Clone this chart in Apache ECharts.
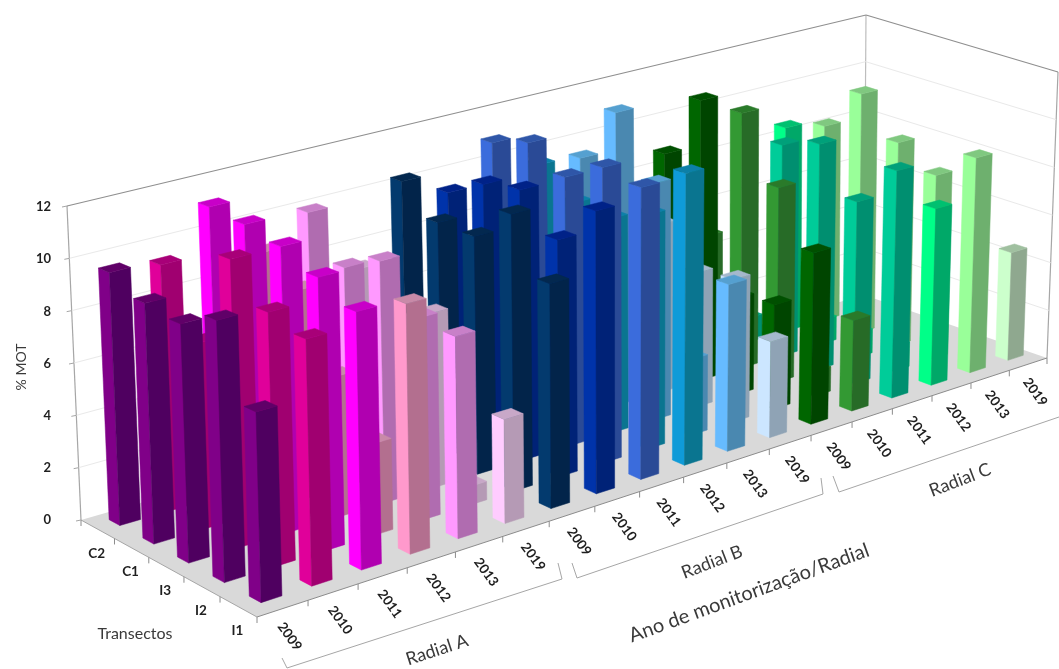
<!DOCTYPE html>
<html>
<head>
<meta charset="utf-8">
<script src="https://cdn.jsdelivr.net/npm/echarts@6/dist/echarts.min.js"></script>
<style>html,body{margin:0;padding:0;background:#fff}#c{width:1059px;height:669px}</style>
</head>
<body>
<div id="c"></div>
<script>
// % MOT per transect, monitoring year and radial
const years = ['2009','2010','2011','2012','2013','2019'];
const radials = ['Radial A','Radial B','Radial C'];
const transects = ['I1','I2','I3','C1','C2'];
const valuesI1 = [6.8,8.9,9.4,9.2,7.5,3.9, 8.5,10.8,11.25,11.35,6.55,3.8, 6.85,3.65,9.25,7.25,8.9,4.5];
const valuesI2 = [9.5,9.3,10.1,3.4,7.6,0.7, 10.6,9.15,11.5,9.2,3,5.7, 4.2,1,7.45,1,7.65,0];
const valuesI3 = [8.8,10.7,10.7,5.3,9.2,6.7, 9.2,10.55,10.6,8.5,9.45,5.4, 3.9,7.95,9.3,1,8.5,0];
const valuesC1 = [9,7,11,8,8.4,4, 9.2,10.25,11.45,8.6,11.8,6.8, 11.45,10.5,8.75,1,10.05,0];
const valuesC2 = [9.6,9.4,11.15,8.9,10,7.3, 10.3,9.4,10.95,9.6,9.45,5, 8.75,4.9,1,8.55,8.2,0];
const rows = [valuesI1, valuesI2, valuesI3, valuesC1, valuesC2];
const yTicks = [0,2,4,6,8,10,12];

// Face shades of each column: [left face, front face, top]
const shades = [
  ['#800088','#4f0060','#600068'],['#e0009a','#a00070','#a80078'],['#ff00ff','#b000b0','#c800c8'],
  ['#ff99cc','#b36f8f','#c88aa8'],['#ff99ff','#b06cb0','#c880c8'],['#ffccff','#b59ab5','#c8a8c8'],
  ['#033a6e','#02244a','#03284f'],['#0033aa','#002277','#002288'],['#3b6cdc','#2a4a96','#2f56a8'],
  ['#0f9bd8','#0a7590','#0c80a8'],['#66bbff','#4a88b0','#55a0d0'],['#cce6ff','#8fa3b5','#a5b8cc'],
  ['#006600','#004500','#005000'],['#339933','#276b27','#2a7a2a'],['#00cc99','#008f70','#00a07a'],
  ['#00ff88','#00a868','#00c070'],['#99ff99','#6eb06e','#80c880'],['#ccffcc','#8fa88f','#a0c0a0']
];

const categories = [];
radials.forEach(r => years.forEach(y => categories.push(r + ' ' + y)));

// Plot rectangle holding the ECharts scales, and the box it is projected onto
const G = {left: 66, top: 207, width: 900, height: 313};
const FLOOR = {bl:[81,520], br:[864,295], fl:[257,617], fr:[1047,358]};
const CEIL  = {bl:[67,206], br:[866,15],  fl:[248,277], fr:[1058,72]};
const FORESHORTEN_U = 0.174, FORESHORTEN_W = 0.064;

const warpU = u => u*(1+FORESHORTEN_U)/(1+FORESHORTEN_U*u);
const warpW = w => w/(1+FORESHORTEN_W*(1-w));
function onPlane(q, s, w) {
  return [0,1].map(n =>
    q.bl[n]*(1-s)*(1-w) + q.br[n]*s*(1-w) + q.fl[n]*(1-s)*w + q.fr[n]*s*w);
}
// u: along the years, w: 0 at the back wall and 1 at the front edge, t: height share
function project(u, w, t) {
  const s = warpU(u), r = warpW(w);
  const p = onPlane(FLOOR,s,r), q = onPlane(CEIL,s,r);
  return [p[0]+(q[0]-p[0])*t, p[1]+(q[1]-p[1])*t];
}
const heightShare = (api, v) => (G.top + G.height - api.coord([0, v])[1]) / G.height;
const cellShare = (api, i, a) => {
  const band = api.size([1,0])[0];
  return (api.coord([i,0])[0] - band/2 + a*band - G.left) / G.width;
};

const BAR_X = [0.37, 0.78], BAR_Z = [0.40, 0.72];

function renderBar(params, api) {
  const i = api.value(0), v = api.value(1), k = api.value(2);
  if (v <= 0) return null;
  const u0 = cellShare(api,i,BAR_X[0]), u1 = cellShare(api,i,BAR_X[1]);
  const wf = 1-(k+BAR_Z[0])/transects.length, wb = 1-(k+BAR_Z[1])/transects.length;
  const t = heightShare(api,v);
  const s = shades[i];
  const poly = (pts,fill) => ({type:'polygon', shape:{points:pts}, style:{fill, stroke:fill, lineWidth:0.5}});
  return {type:'group', children:[
    poly([project(u0,wb,0),project(u0,wf,0),project(u0,wf,t),project(u0,wb,t)], s[0]),
    poly([project(u0,wf,0),project(u1,wf,0),project(u1,wf,t),project(u0,wf,t)], s[1]),
    poly([project(u0,wb,t),project(u1,wb,t),project(u1,wf,t),project(u0,wf,t)], s[2])
  ]};
}

function renderBox(params, api) {
  const t = heightShare(api, api.value(0));
  const line = (a,b,color,w) => ({type:'line', shape:{x1:a[0],y1:a[1],x2:b[0],y2:b[1]}, style:{stroke:color,lineWidth:w}});
  const children = [];
  const top = t > 0.999, base = t < 0.001;
  const col = top ? '#8f8f8f' : '#e9e9e9';
  if (base) {
    children.push({type:'polygon', shape:{points:[project(0,0,0),project(1,0,0),project(1,1,0),project(0,1,0)]}, style:{fill:'#d9d9d9'}});
    children.push(line(project(0,0,0),project(0,0,1),'#a6a6a6',1.2));
    children.push(line(project(1,0,0),project(1,0,1),'#bdbdbd',1.2));
    children.push(line(project(1,1,0),project(1,1,1),'#a6a6a6',1.2));
    children.push(line(project(0,0,0),project(0,1,0),'#a6a6a6',1));
    children.push(line(project(0,1,0),project(1,1,0),'#8c8c8c',1));
    categories.forEach((c,i) => {
      const a = project(i/18,1,0);
      children.push(line(a,[a[0],a[1]+6],'#8c8c8c',1));
    });
    const e = project(1,1,0);
    children.push(line(e,[e[0],e[1]+6],'#8c8c8c',1));
    transects.forEach((c,k) => {
      const a = project(0,k/5,0);
      children.push(line(a,[a[0],a[1]+6],'#8c8c8c',1));
    });
  } else {
    children.push(line(project(0,0,t),project(1,0,t),col,top?1.2:1));
    children.push(line(project(1,0,t),project(1,1,t),col,top?1.2:1));
  }
  const a = project(0,0,t);
  children.push(line(a,[a[0]-5,a[1]+1],'#a6a6a6',1));
  return {type:'group', children};
}

function renderAxisText(params, api) {
  const text = years[api.value(0) % years.length];
  const u = cellShare(api, api.value(0), 0.5);
  const p = project(u,1,0);
  return {type:'text', x:p[0]+7, y:p[1]+28, rotation:-54*Math.PI/180,
    style:{text, font:'bold 13.5px Lato', fill:'#1f1f1f', align:'center', verticalAlign:'middle'}};
}
function renderTransectText(params, api) {
  const k = api.value(0);
  const p = project(0, 1-(k+0.5)/transects.length, 0);
  return {type:'text', x:p[0]-1, y:p[1]+24,
    style:{text:transects[k], font:'bold 13.5px Lato', fill:'#1f1f1f', align:'center', verticalAlign:'middle'}};
}

// Painted back to front: rear transects first, and right to left within a row
const barData = [];
for (let k = rows.length-1; k >= 0; k--) {
  for (let i = categories.length-1; i >= 0; i--) barData.push([i, rows[k][i], k]);
}

const word = (text,x,y,deg,size) => ({type:'text', x, y, rotation:deg*Math.PI/180,
  style:{text, font:size+'px Lato', fill:'#3a3a3a', align:'center', verticalAlign:'middle'}});
const bracket = pts => ({type:'polyline', shape:{points:pts}, style:{stroke:'#a6a6a6', lineWidth:1, fill:'none'}});

const chart = echarts.init(document.getElementById('c'), null, {renderer:'canvas'});
chart.setOption({
  animation:false,
  backgroundColor:'#fff',
  grid:{left:G.left, top:G.top, width:G.width, height:G.height},
  xAxis:{type:'category', data:categories, show:false},
  yAxis:{type:'value', min:0, max:12, interval:2,
    axisLine:{show:false}, axisTick:{show:false}, splitLine:{show:false},
    axisLabel:{margin:15, color:'#1f1f1f', fontFamily:'Lato', fontWeight:'bold', fontSize:13}},
  series:[
    {type:'custom', silent:true, z:1, data:yTicks.map(v => [v]), encode:{y:0}, renderItem:renderBox, coordinateSystem:'cartesian2d', clip:false},
    {type:'custom', silent:true, z:2, data:barData, encode:{x:0,y:1}, renderItem:renderBar, clip:false},
    {type:'custom', silent:true, z:3, data:categories.map((c,i) => [i]), encode:{x:0}, renderItem:renderAxisText, clip:false},
    {type:'custom', silent:true, z:3, data:transects.map((c,k) => [k]), encode:{x:0}, renderItem:renderTransectText, clip:false}
  ],
  graphic:[
    bracket([[282,658],[287,668],[562,579],[558,563]]),
    bracket([[572,563],[577,578],[823,494],[821,478]]),
    bracket([[833,476],[839,492],[1059,417]]),
    word(radials[0],437,650,18,18),
    word(radials[1],712,562,21,18),
    word(radials[2],960,480,21,18),
    word('Ano de monitorização/Radial',749,593,20,20),
    word('Transectos',135,634,0,16),
    word('% MOT',21,367,90,14)
  ]
});
</script>
</body>
</html>
